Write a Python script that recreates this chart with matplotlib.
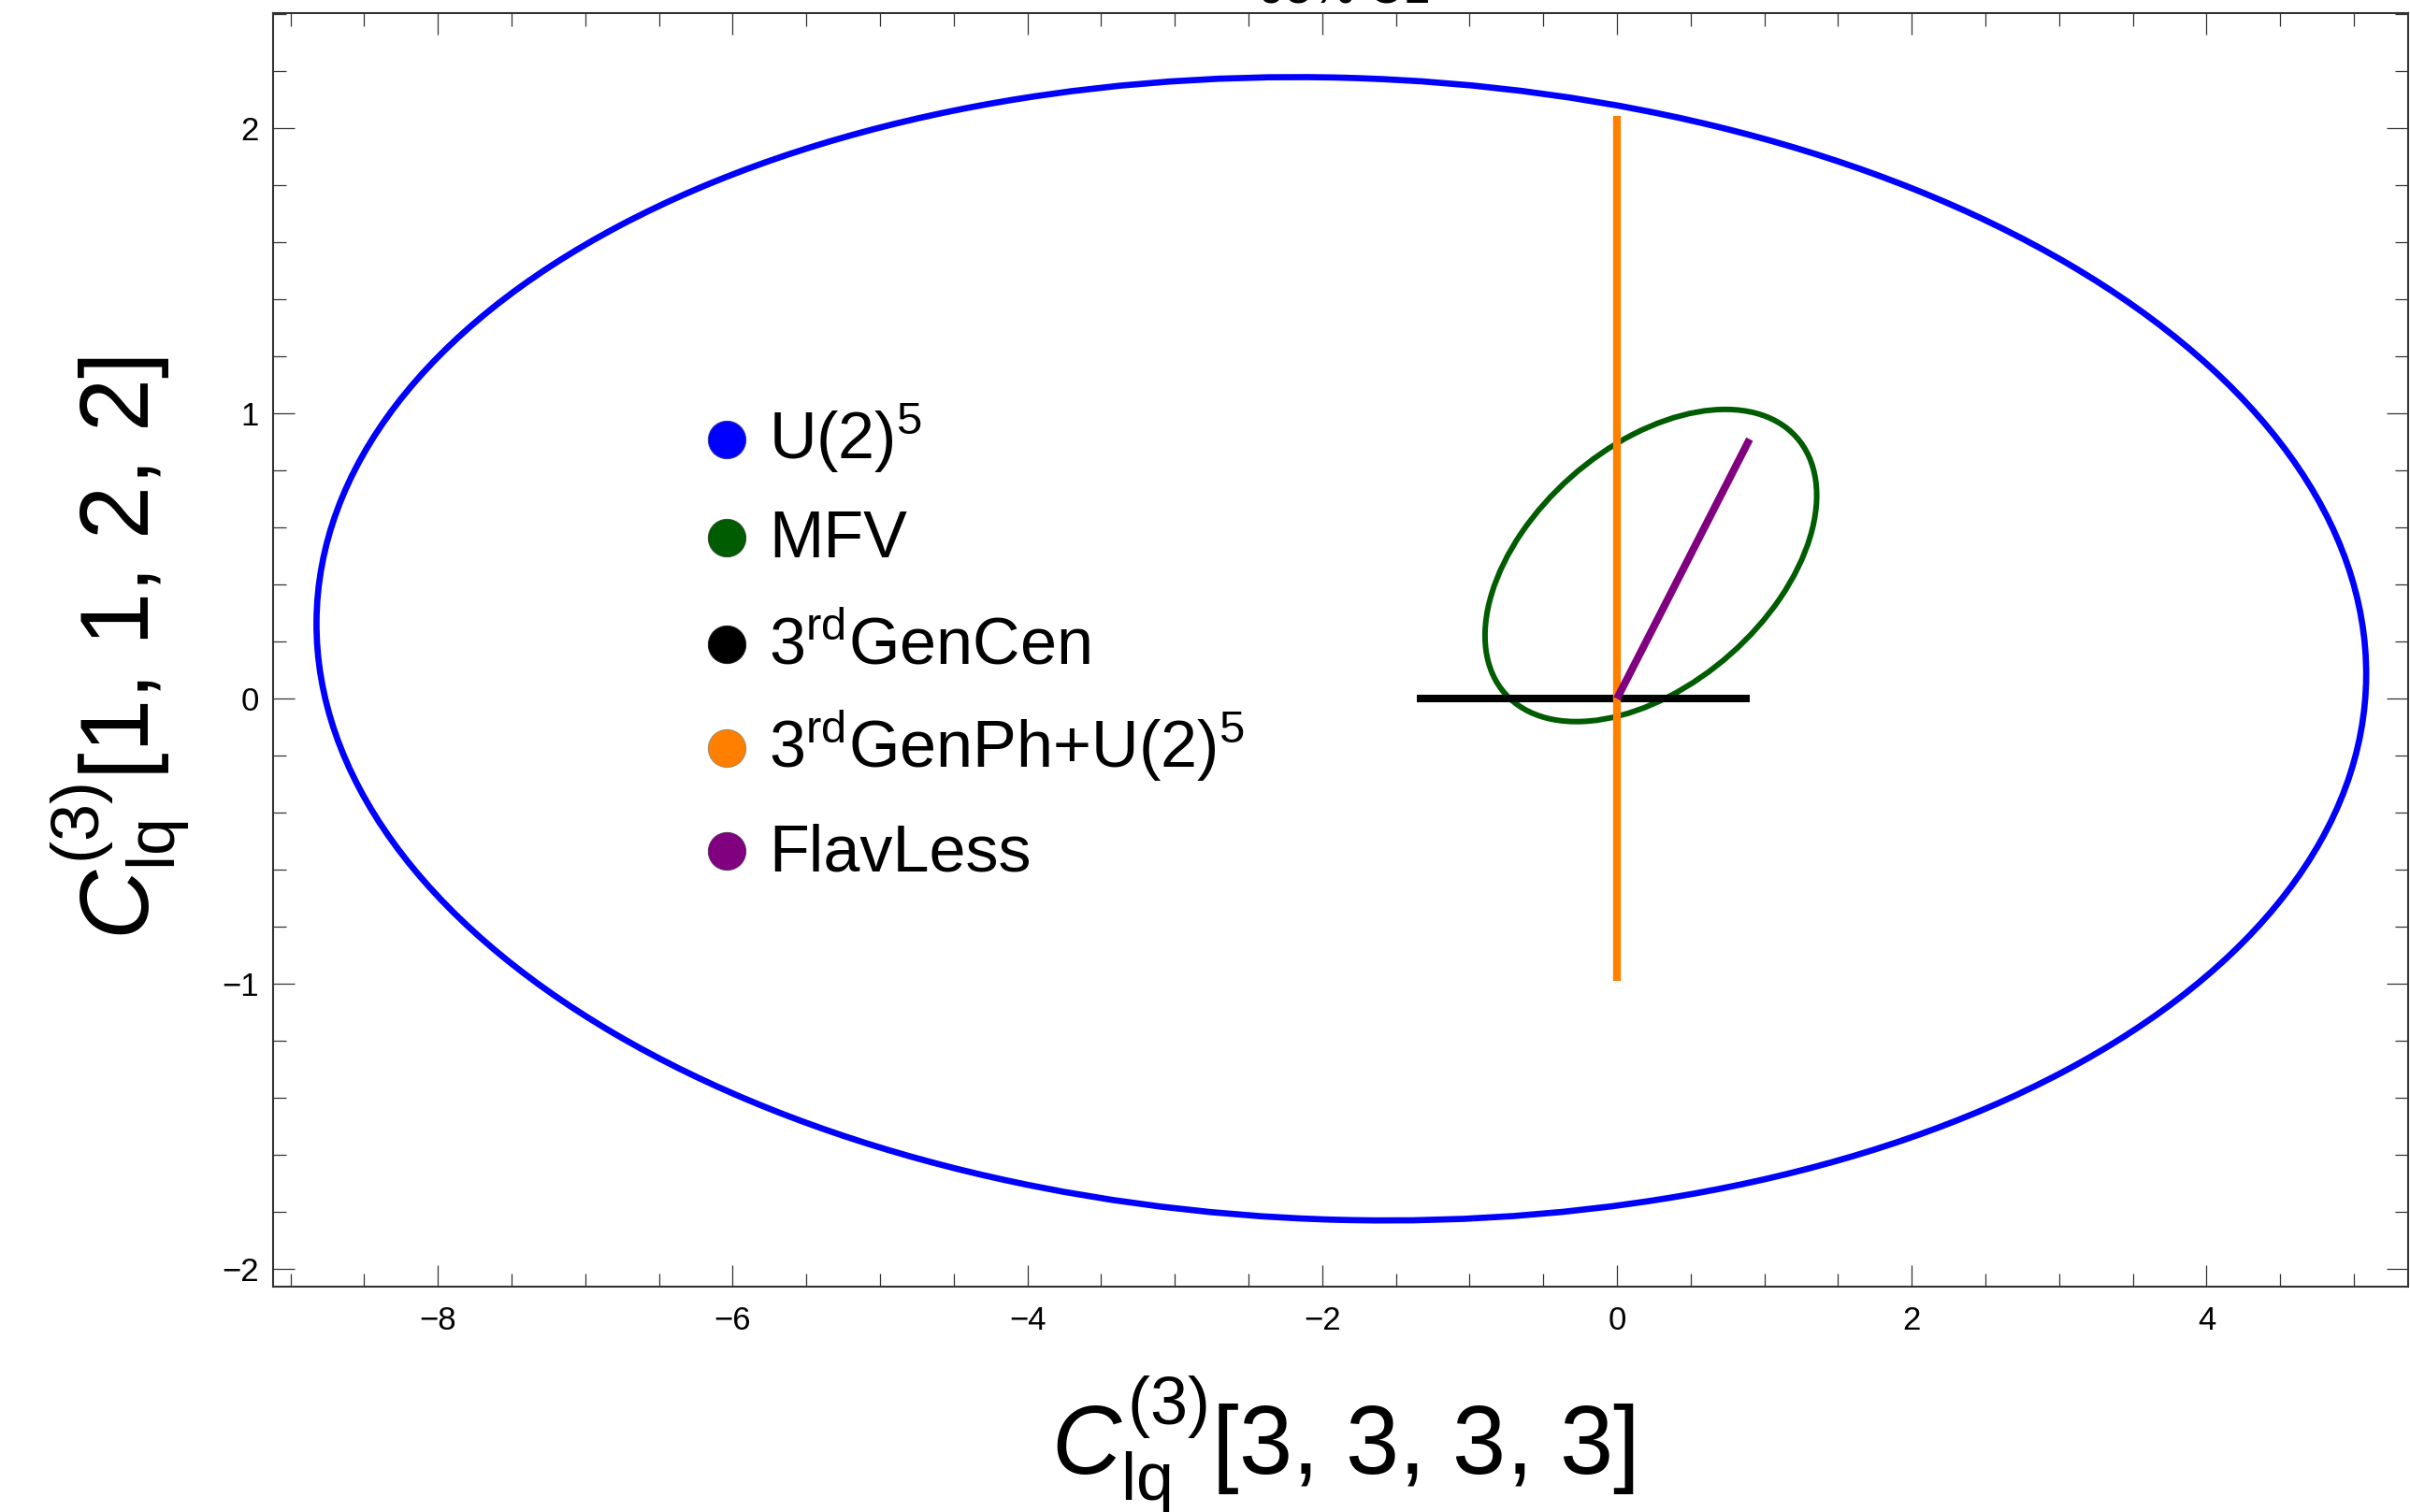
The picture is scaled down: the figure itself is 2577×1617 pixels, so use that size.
import numpy as np
import matplotlib
matplotlib.use("Agg")
import matplotlib.pyplot as plt
from matplotlib.patches import Ellipse
from matplotlib.lines import Line2D
from matplotlib.ticker import MultipleLocator

plt.rcParams['font.family'] = ['Liberation Sans', 'DejaVu Sans']
plt.rcParams['mathtext.fontset'] = 'custom'
plt.rcParams['mathtext.rm'] = 'Liberation Sans'
plt.rcParams['mathtext.it'] = 'Liberation Sans:italic'
plt.rcParams['mathtext.bf'] = 'Liberation Sans:bold'

# ---- data -------------------------------------------------------------
# 95% CL ellipses: centre and shape matrix (x = c + L u, |u| = 1, M = L L^T)
u2_center = [-1.87, 0.175]
u2_shape = [[48.35, -0.61], [-0.61, 4.018]]
mfv_center = [0.230, 0.467]
mfv_shape = [[1.266, 0.2765], [0.2765, 0.2996]]

# one-parameter scenarios (segments)
gencen_x = [-1.36, 0.90]
gencen_y = [0.0, 0.0]
genph_x = [0.0, 0.0]
genph_y = [-0.99, 2.043]
flavless_x = [0.0, 0.90]
flavless_y = [0.0, 0.91]

legend_labels = [r'U(2)$^{5}$', 'MFV', r'3$^{\mathrm{rd}}$GenCen',
                 r'3$^{\mathrm{rd}}$GenPh+U(2)$^{5}$', 'FlavLess']
legend_colors = ['#0000FF', '#005C00', '#000000', '#FF8000', '#800080']
legend_edges = ['#3030A0', '#2E4A2E', '#202020', '#A08060', '#603060']

x_major = [-8, -6, -4, -2, 0, 2, 4]
y_major = [-2, -1, 0, 1, 2]
xlim = (-9.118, 5.368)
ylim = (-2.060, 2.404)

# ---- figure -----------------------------------------------------------
W, H = 2577, 1617
fig = plt.figure(figsize=(W / 100, H / 100), dpi=100)
ax = fig.add_axes([292 / W, 241.5 / H, (2575 - 292) / W, (1603 - 241.5) / H])


def add_ellipse(center, shape, color, lw):
    vals, vecs = np.linalg.eigh(np.array(shape))
    major = vecs[:, 1]
    angle = np.degrees(np.arctan2(major[1], major[0]))
    e = Ellipse(center, 2 * np.sqrt(vals[1]), 2 * np.sqrt(vals[0]), angle=angle,
                facecolor='none', edgecolor=color, lw=lw)
    ax.add_patch(e)


add_ellipse(u2_center, u2_shape, legend_colors[0], 4.8)
add_ellipse(mfv_center, mfv_shape, legend_colors[1], 4.3)
ax.plot(gencen_x, gencen_y, color=legend_colors[2], lw=5.8, solid_capstyle='butt')
ax.plot(genph_x, genph_y, color=legend_colors[3], lw=6.0, solid_capstyle='butt')
ax.plot(flavless_x, flavless_y, color=legend_colors[4], lw=5.8, solid_capstyle='butt')

ax.set_xlim(*xlim)
ax.set_ylim(*ylim)
ax.set_xticks(x_major)
ax.set_yticks(y_major)
ax.xaxis.set_minor_locator(MultipleLocator(0.5))
ax.yaxis.set_minor_locator(MultipleLocator(0.2))
ax.tick_params(which='both', direction='in', top=True, right=True,
               labeltop=False, labelright=False, color='#333333', width=0.9)
ax.tick_params(which='major', length=16.5, labelsize=25)
ax.tick_params(which='minor', length=10)
ax.tick_params(axis='x', which='major', pad=15)
ax.tick_params(axis='y', which='major', pad=11)
for s in ax.spines.values():
    s.set_color('#333333')
    s.set_linewidth(1.5)

# axis labels
fig.text(1436 / W, (H - 1576) / H, r'$C_{\mathrm{lq}}^{(3)}$[3, 3, 3, 3]',
         ha='center', va='baseline', fontsize=74)
fig.text(160 / W, (H - 693) / H, r'$C_{\mathrm{lq}}^{(3)}$[1, 1, 2, 2]',
         ha='center', va='baseline', rotation=90, rotation_mode='anchor',
         fontsize=74)

# title (sits above the top edge)
fig.text(1437 / W, 1 - 4 / H, '95% CL', ha='center', va='baseline', fontsize=37)

# legend
row_px = [470, 575, 689, 800, 910]
for lab, col, edge, ypx in zip(legend_labels, legend_colors, legend_edges, row_px):
    fig.add_artist(Line2D([777 / W], [(H - ypx) / H], marker='o', markersize=29,
                          markerfacecolor=col, markeredgecolor=edge,
                          markeredgewidth=0.7, linestyle='none',
                          transform=fig.transFigure))
    fig.text(822 / W, (H - ypx - 21) / H, lab, ha='left', va='baseline',
             fontsize=50.5)

fig.savefig('out.png', dpi=100)
